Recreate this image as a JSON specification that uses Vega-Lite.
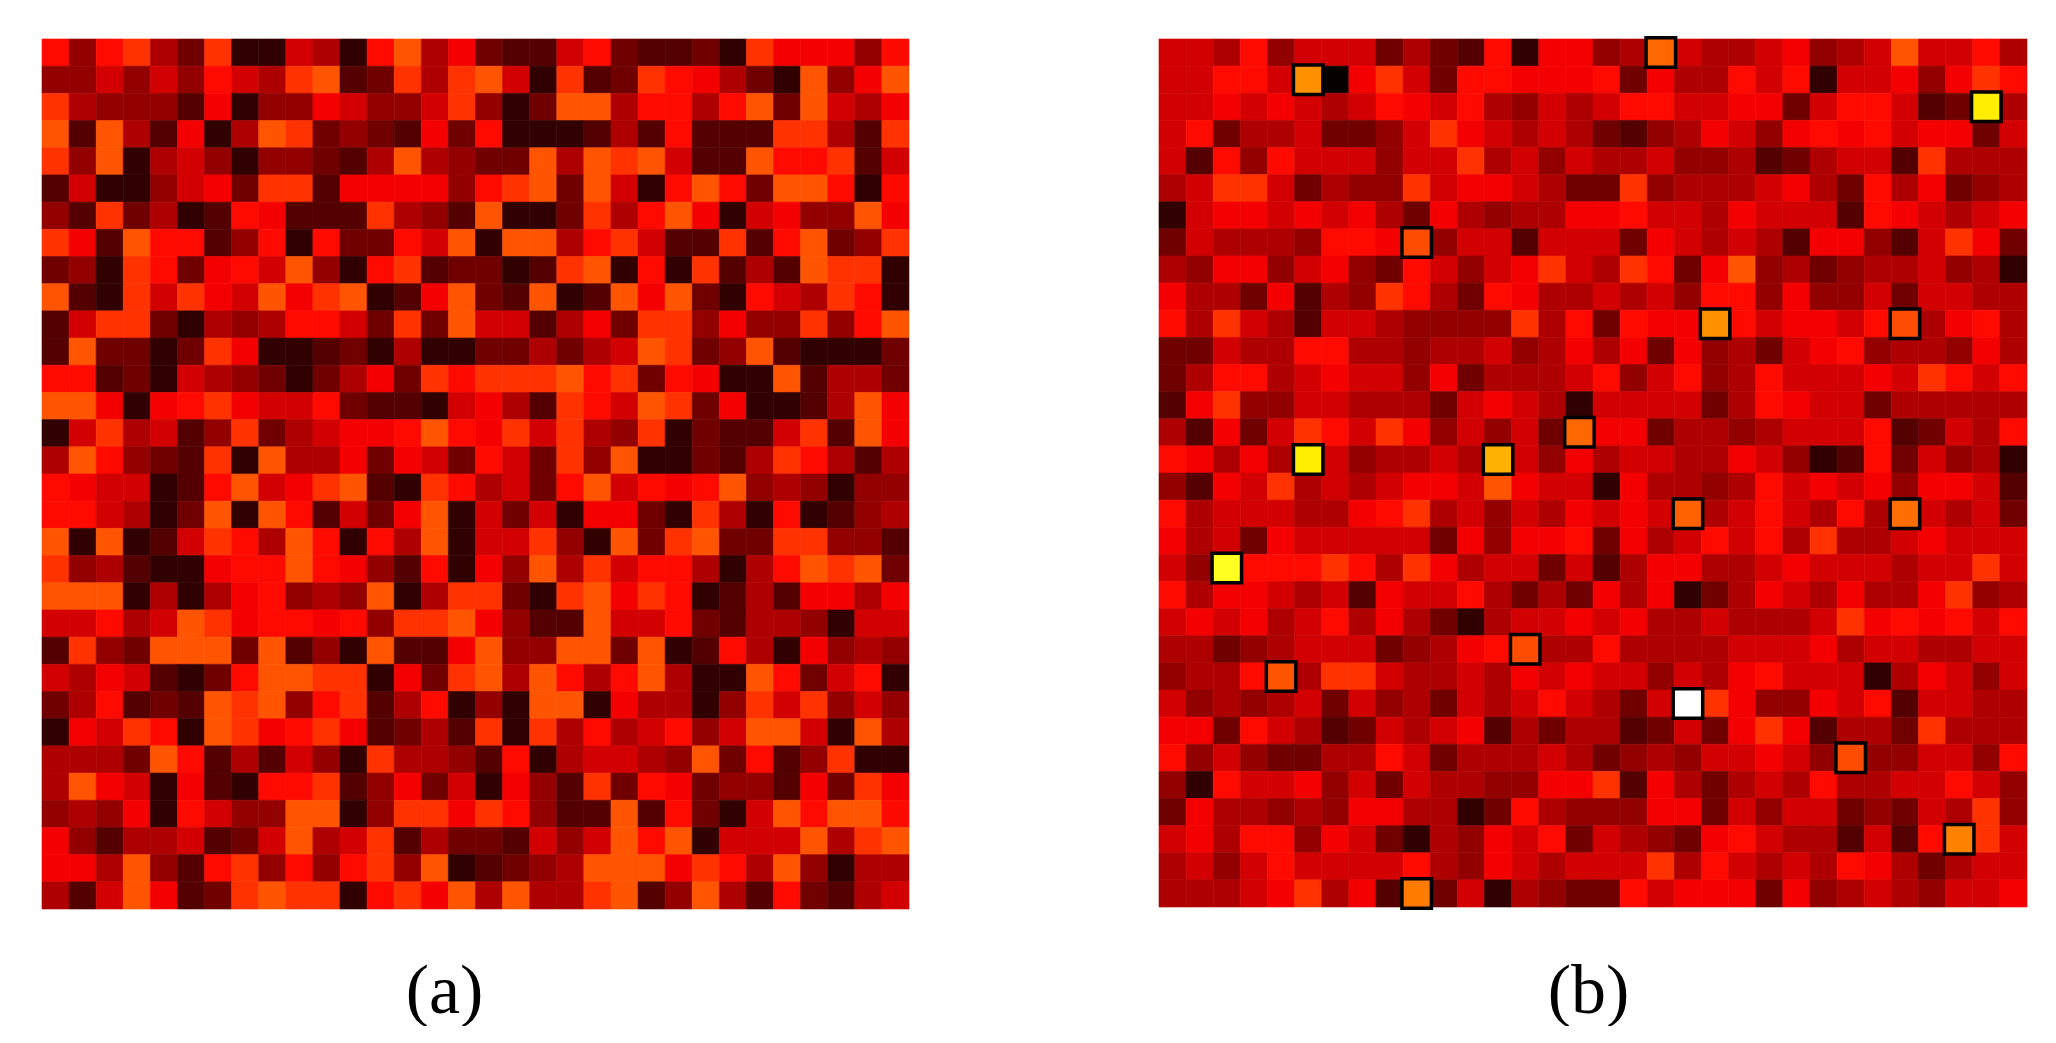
{"$schema":"https://vega.github.io/schema/vega-lite/v6.json","background":"white","padding":{"left":41,"top":30,"right":0,"bottom":0},"spacing":248,"config":{"view":{"stroke":null}},
"datasets":{"a":[
{"x":0,"y":0,"v":38},{"x":1,"y":0,"v":21},{"x":2,"y":0,"v":38},{"x":3,"y":0,"v":44},{"x":4,"y":0,"v":25},{"x":5,"y":0,"v":16},{"x":6,"y":0,"v":44},{"x":7,"y":0,"v":7},{"x":8,"y":0,"v":7},{"x":9,"y":0,"v":30},{"x":10,"y":0,"v":25},{"x":11,"y":0,"v":7},{"x":12,"y":0,"v":38},{"x":13,"y":0,"v":49},{"x":14,"y":0,"v":25},{"x":15,"y":0,"v":35},{"x":16,"y":0,"v":16},{"x":17,"y":0,"v":12},{"x":18,"y":0,"v":12},{"x":19,"y":0,"v":30},{"x":20,"y":0,"v":38},{"x":21,"y":0,"v":16},{"x":22,"y":0,"v":12},{"x":23,"y":0,"v":12},{"x":24,"y":0,"v":16},{"x":25,"y":0,"v":7},{"x":26,"y":0,"v":44},{"x":27,"y":0,"v":35},{"x":28,"y":0,"v":35},{"x":29,"y":0,"v":35},{"x":30,"y":0,"v":21},{"x":31,"y":0,"v":38},
{"x":0,"y":1,"v":21},{"x":1,"y":1,"v":21},{"x":2,"y":1,"v":30},{"x":3,"y":1,"v":21},{"x":4,"y":1,"v":30},{"x":5,"y":1,"v":21},{"x":6,"y":1,"v":38},{"x":7,"y":1,"v":30},{"x":8,"y":1,"v":25},{"x":9,"y":1,"v":44},{"x":10,"y":1,"v":49},{"x":11,"y":1,"v":12},{"x":12,"y":1,"v":16},{"x":13,"y":1,"v":44},{"x":14,"y":1,"v":25},{"x":15,"y":1,"v":44},{"x":16,"y":1,"v":49},{"x":17,"y":1,"v":30},{"x":18,"y":1,"v":7},{"x":19,"y":1,"v":44},{"x":20,"y":1,"v":12},{"x":21,"y":1,"v":16},{"x":22,"y":1,"v":44},{"x":23,"y":1,"v":38},{"x":24,"y":1,"v":35},{"x":25,"y":1,"v":25},{"x":26,"y":1,"v":16},{"x":27,"y":1,"v":7},{"x":28,"y":1,"v":49},{"x":29,"y":1,"v":21},{"x":30,"y":1,"v":35},{"x":31,"y":1,"v":49},
{"x":0,"y":2,"v":44},{"x":1,"y":2,"v":25},{"x":2,"y":2,"v":21},{"x":3,"y":2,"v":21},{"x":4,"y":2,"v":21},{"x":5,"y":2,"v":12},{"x":6,"y":2,"v":35},{"x":7,"y":2,"v":7},{"x":8,"y":2,"v":21},{"x":9,"y":2,"v":21},{"x":10,"y":2,"v":35},{"x":11,"y":2,"v":30},{"x":12,"y":2,"v":21},{"x":13,"y":2,"v":21},{"x":14,"y":2,"v":30},{"x":15,"y":2,"v":44},{"x":16,"y":2,"v":21},{"x":17,"y":2,"v":7},{"x":18,"y":2,"v":16},{"x":19,"y":2,"v":49},{"x":20,"y":2,"v":49},{"x":21,"y":2,"v":25},{"x":22,"y":2,"v":38},{"x":23,"y":2,"v":38},{"x":24,"y":2,"v":25},{"x":25,"y":2,"v":38},{"x":26,"y":2,"v":49},{"x":27,"y":2,"v":16},{"x":28,"y":2,"v":49},{"x":29,"y":2,"v":30},{"x":30,"y":2,"v":25},{"x":31,"y":2,"v":35},
{"x":0,"y":3,"v":49},{"x":1,"y":3,"v":12},{"x":2,"y":3,"v":49},{"x":3,"y":3,"v":25},{"x":4,"y":3,"v":12},{"x":5,"y":3,"v":35},{"x":6,"y":3,"v":7},{"x":7,"y":3,"v":25},{"x":8,"y":3,"v":49},{"x":9,"y":3,"v":44},{"x":10,"y":3,"v":16},{"x":11,"y":3,"v":21},{"x":12,"y":3,"v":16},{"x":13,"y":3,"v":12},{"x":14,"y":3,"v":35},{"x":15,"y":3,"v":16},{"x":16,"y":3,"v":38},{"x":17,"y":3,"v":7},{"x":18,"y":3,"v":7},{"x":19,"y":3,"v":7},{"x":20,"y":3,"v":12},{"x":21,"y":3,"v":25},{"x":22,"y":3,"v":12},{"x":23,"y":3,"v":38},{"x":24,"y":3,"v":12},{"x":25,"y":3,"v":12},{"x":26,"y":3,"v":12},{"x":27,"y":3,"v":44},{"x":28,"y":3,"v":44},{"x":29,"y":3,"v":25},{"x":30,"y":3,"v":12},{"x":31,"y":3,"v":44},
{"x":0,"y":4,"v":44},{"x":1,"y":4,"v":21},{"x":2,"y":4,"v":49},{"x":3,"y":4,"v":7},{"x":4,"y":4,"v":25},{"x":5,"y":4,"v":30},{"x":6,"y":4,"v":21},{"x":7,"y":4,"v":7},{"x":8,"y":4,"v":21},{"x":9,"y":4,"v":21},{"x":10,"y":4,"v":16},{"x":11,"y":4,"v":12},{"x":12,"y":4,"v":25},{"x":13,"y":4,"v":49},{"x":14,"y":4,"v":25},{"x":15,"y":4,"v":21},{"x":16,"y":4,"v":16},{"x":17,"y":4,"v":16},{"x":18,"y":4,"v":49},{"x":19,"y":4,"v":25},{"x":20,"y":4,"v":49},{"x":21,"y":4,"v":44},{"x":22,"y":4,"v":49},{"x":23,"y":4,"v":30},{"x":24,"y":4,"v":12},{"x":25,"y":4,"v":12},{"x":26,"y":4,"v":49},{"x":27,"y":4,"v":38},{"x":28,"y":4,"v":38},{"x":29,"y":4,"v":44},{"x":30,"y":4,"v":12},{"x":31,"y":4,"v":30},
{"x":0,"y":5,"v":12},{"x":1,"y":5,"v":30},{"x":2,"y":5,"v":7},{"x":3,"y":5,"v":7},{"x":4,"y":5,"v":21},{"x":5,"y":5,"v":30},{"x":6,"y":5,"v":35},{"x":7,"y":5,"v":16},{"x":8,"y":5,"v":44},{"x":9,"y":5,"v":44},{"x":10,"y":5,"v":12},{"x":11,"y":5,"v":35},{"x":12,"y":5,"v":35},{"x":13,"y":5,"v":35},{"x":14,"y":5,"v":35},{"x":15,"y":5,"v":21},{"x":16,"y":5,"v":38},{"x":17,"y":5,"v":44},{"x":18,"y":5,"v":49},{"x":19,"y":5,"v":16},{"x":20,"y":5,"v":49},{"x":21,"y":5,"v":30},{"x":22,"y":5,"v":7},{"x":23,"y":5,"v":38},{"x":24,"y":5,"v":49},{"x":25,"y":5,"v":38},{"x":26,"y":5,"v":16},{"x":27,"y":5,"v":49},{"x":28,"y":5,"v":49},{"x":29,"y":5,"v":38},{"x":30,"y":5,"v":7},{"x":31,"y":5,"v":38},
{"x":0,"y":6,"v":21},{"x":1,"y":6,"v":12},{"x":2,"y":6,"v":44},{"x":3,"y":6,"v":16},{"x":4,"y":6,"v":25},{"x":5,"y":6,"v":7},{"x":6,"y":6,"v":12},{"x":7,"y":6,"v":38},{"x":8,"y":6,"v":35},{"x":9,"y":6,"v":12},{"x":10,"y":6,"v":12},{"x":11,"y":6,"v":12},{"x":12,"y":6,"v":44},{"x":13,"y":6,"v":25},{"x":14,"y":6,"v":21},{"x":15,"y":6,"v":12},{"x":16,"y":6,"v":49},{"x":17,"y":6,"v":7},{"x":18,"y":6,"v":7},{"x":19,"y":6,"v":16},{"x":20,"y":6,"v":44},{"x":21,"y":6,"v":25},{"x":22,"y":6,"v":38},{"x":23,"y":6,"v":49},{"x":24,"y":6,"v":35},{"x":25,"y":6,"v":7},{"x":26,"y":6,"v":30},{"x":27,"y":6,"v":35},{"x":28,"y":6,"v":21},{"x":29,"y":6,"v":21},{"x":30,"y":6,"v":49},{"x":31,"y":6,"v":35},
{"x":0,"y":7,"v":44},{"x":1,"y":7,"v":35},{"x":2,"y":7,"v":12},{"x":3,"y":7,"v":49},{"x":4,"y":7,"v":38},{"x":5,"y":7,"v":38},{"x":6,"y":7,"v":12},{"x":7,"y":7,"v":21},{"x":8,"y":7,"v":38},{"x":9,"y":7,"v":7},{"x":10,"y":7,"v":38},{"x":11,"y":7,"v":16},{"x":12,"y":7,"v":16},{"x":13,"y":7,"v":38},{"x":14,"y":7,"v":30},{"x":15,"y":7,"v":49},{"x":16,"y":7,"v":7},{"x":17,"y":7,"v":49},{"x":18,"y":7,"v":49},{"x":19,"y":7,"v":25},{"x":20,"y":7,"v":38},{"x":21,"y":7,"v":44},{"x":22,"y":7,"v":30},{"x":23,"y":7,"v":12},{"x":24,"y":7,"v":12},{"x":25,"y":7,"v":44},{"x":26,"y":7,"v":12},{"x":27,"y":7,"v":38},{"x":28,"y":7,"v":49},{"x":29,"y":7,"v":16},{"x":30,"y":7,"v":21},{"x":31,"y":7,"v":44},
{"x":0,"y":8,"v":16},{"x":1,"y":8,"v":21},{"x":2,"y":8,"v":7},{"x":3,"y":8,"v":44},{"x":4,"y":8,"v":38},{"x":5,"y":8,"v":16},{"x":6,"y":8,"v":35},{"x":7,"y":8,"v":38},{"x":8,"y":8,"v":30},{"x":9,"y":8,"v":49},{"x":10,"y":8,"v":21},{"x":11,"y":8,"v":7},{"x":12,"y":8,"v":38},{"x":13,"y":8,"v":44},{"x":14,"y":8,"v":12},{"x":15,"y":8,"v":16},{"x":16,"y":8,"v":16},{"x":17,"y":8,"v":7},{"x":18,"y":8,"v":12},{"x":19,"y":8,"v":44},{"x":20,"y":8,"v":49},{"x":21,"y":8,"v":7},{"x":22,"y":8,"v":38},{"x":23,"y":8,"v":7},{"x":24,"y":8,"v":44},{"x":25,"y":8,"v":12},{"x":26,"y":8,"v":25},{"x":27,"y":8,"v":12},{"x":28,"y":8,"v":49},{"x":29,"y":8,"v":44},{"x":30,"y":8,"v":44},{"x":31,"y":8,"v":7},
{"x":0,"y":9,"v":49},{"x":1,"y":9,"v":12},{"x":2,"y":9,"v":7},{"x":3,"y":9,"v":44},{"x":4,"y":9,"v":30},{"x":5,"y":9,"v":44},{"x":6,"y":9,"v":35},{"x":7,"y":9,"v":30},{"x":8,"y":9,"v":49},{"x":9,"y":9,"v":35},{"x":10,"y":9,"v":44},{"x":11,"y":9,"v":49},{"x":12,"y":9,"v":7},{"x":13,"y":9,"v":12},{"x":14,"y":9,"v":35},{"x":15,"y":9,"v":49},{"x":16,"y":9,"v":16},{"x":17,"y":9,"v":12},{"x":18,"y":9,"v":49},{"x":19,"y":9,"v":7},{"x":20,"y":9,"v":12},{"x":21,"y":9,"v":49},{"x":22,"y":9,"v":35},{"x":23,"y":9,"v":49},{"x":24,"y":9,"v":16},{"x":25,"y":9,"v":7},{"x":26,"y":9,"v":38},{"x":27,"y":9,"v":30},{"x":28,"y":9,"v":25},{"x":29,"y":9,"v":44},{"x":30,"y":9,"v":38},{"x":31,"y":9,"v":7},
{"x":0,"y":10,"v":12},{"x":1,"y":10,"v":30},{"x":2,"y":10,"v":44},{"x":3,"y":10,"v":44},{"x":4,"y":10,"v":16},{"x":5,"y":10,"v":7},{"x":6,"y":10,"v":25},{"x":7,"y":10,"v":21},{"x":8,"y":10,"v":25},{"x":9,"y":10,"v":38},{"x":10,"y":10,"v":38},{"x":11,"y":10,"v":30},{"x":12,"y":10,"v":16},{"x":13,"y":10,"v":44},{"x":14,"y":10,"v":16},{"x":15,"y":10,"v":49},{"x":16,"y":10,"v":30},{"x":17,"y":10,"v":30},{"x":18,"y":10,"v":12},{"x":19,"y":10,"v":25},{"x":20,"y":10,"v":35},{"x":21,"y":10,"v":16},{"x":22,"y":10,"v":44},{"x":23,"y":10,"v":44},{"x":24,"y":10,"v":21},{"x":25,"y":10,"v":35},{"x":26,"y":10,"v":21},{"x":27,"y":10,"v":21},{"x":28,"y":10,"v":44},{"x":29,"y":10,"v":21},{"x":30,"y":10,"v":38},{"x":31,"y":10,"v":49},
{"x":0,"y":11,"v":12},{"x":1,"y":11,"v":49},{"x":2,"y":11,"v":16},{"x":3,"y":11,"v":16},{"x":4,"y":11,"v":7},{"x":5,"y":11,"v":16},{"x":6,"y":11,"v":44},{"x":7,"y":11,"v":35},{"x":8,"y":11,"v":7},{"x":9,"y":11,"v":7},{"x":10,"y":11,"v":12},{"x":11,"y":11,"v":16},{"x":12,"y":11,"v":7},{"x":13,"y":11,"v":25},{"x":14,"y":11,"v":7},{"x":15,"y":11,"v":7},{"x":16,"y":11,"v":16},{"x":17,"y":11,"v":16},{"x":18,"y":11,"v":25},{"x":19,"y":11,"v":16},{"x":20,"y":11,"v":25},{"x":21,"y":11,"v":30},{"x":22,"y":11,"v":49},{"x":23,"y":11,"v":44},{"x":24,"y":11,"v":16},{"x":25,"y":11,"v":21},{"x":26,"y":11,"v":49},{"x":27,"y":11,"v":12},{"x":28,"y":11,"v":7},{"x":29,"y":11,"v":7},{"x":30,"y":11,"v":7},{"x":31,"y":11,"v":16},
{"x":0,"y":12,"v":38},{"x":1,"y":12,"v":38},{"x":2,"y":12,"v":12},{"x":3,"y":12,"v":16},{"x":4,"y":12,"v":7},{"x":5,"y":12,"v":30},{"x":6,"y":12,"v":25},{"x":7,"y":12,"v":21},{"x":8,"y":12,"v":16},{"x":9,"y":12,"v":7},{"x":10,"y":12,"v":16},{"x":11,"y":12,"v":25},{"x":12,"y":12,"v":35},{"x":13,"y":12,"v":16},{"x":14,"y":12,"v":44},{"x":15,"y":12,"v":38},{"x":16,"y":12,"v":44},{"x":17,"y":12,"v":44},{"x":18,"y":12,"v":44},{"x":19,"y":12,"v":49},{"x":20,"y":12,"v":38},{"x":21,"y":12,"v":44},{"x":22,"y":12,"v":16},{"x":23,"y":12,"v":38},{"x":24,"y":12,"v":35},{"x":25,"y":12,"v":7},{"x":26,"y":12,"v":7},{"x":27,"y":12,"v":49},{"x":28,"y":12,"v":12},{"x":29,"y":12,"v":25},{"x":30,"y":12,"v":25},{"x":31,"y":12,"v":16},
{"x":0,"y":13,"v":49},{"x":1,"y":13,"v":49},{"x":2,"y":13,"v":35},{"x":3,"y":13,"v":7},{"x":4,"y":13,"v":35},{"x":5,"y":13,"v":38},{"x":6,"y":13,"v":44},{"x":7,"y":13,"v":35},{"x":8,"y":13,"v":30},{"x":9,"y":13,"v":30},{"x":10,"y":13,"v":38},{"x":11,"y":13,"v":16},{"x":12,"y":13,"v":12},{"x":13,"y":13,"v":12},{"x":14,"y":13,"v":7},{"x":15,"y":13,"v":30},{"x":16,"y":13,"v":35},{"x":17,"y":13,"v":25},{"x":18,"y":13,"v":12},{"x":19,"y":13,"v":44},{"x":20,"y":13,"v":38},{"x":21,"y":13,"v":30},{"x":22,"y":13,"v":49},{"x":23,"y":13,"v":44},{"x":24,"y":13,"v":16},{"x":25,"y":13,"v":35},{"x":26,"y":13,"v":7},{"x":27,"y":13,"v":7},{"x":28,"y":13,"v":12},{"x":29,"y":13,"v":25},{"x":30,"y":13,"v":49},{"x":31,"y":13,"v":35},
{"x":0,"y":14,"v":7},{"x":1,"y":14,"v":30},{"x":2,"y":14,"v":44},{"x":3,"y":14,"v":25},{"x":4,"y":14,"v":30},{"x":5,"y":14,"v":12},{"x":6,"y":14,"v":21},{"x":7,"y":14,"v":44},{"x":8,"y":14,"v":16},{"x":9,"y":14,"v":25},{"x":10,"y":14,"v":30},{"x":11,"y":14,"v":35},{"x":12,"y":14,"v":35},{"x":13,"y":14,"v":38},{"x":14,"y":14,"v":49},{"x":15,"y":14,"v":38},{"x":16,"y":14,"v":35},{"x":17,"y":14,"v":44},{"x":18,"y":14,"v":30},{"x":19,"y":14,"v":44},{"x":20,"y":14,"v":25},{"x":21,"y":14,"v":21},{"x":22,"y":14,"v":44},{"x":23,"y":14,"v":7},{"x":24,"y":14,"v":16},{"x":25,"y":14,"v":12},{"x":26,"y":14,"v":12},{"x":27,"y":14,"v":30},{"x":28,"y":14,"v":44},{"x":29,"y":14,"v":12},{"x":30,"y":14,"v":49},{"x":31,"y":14,"v":35},
{"x":0,"y":15,"v":25},{"x":1,"y":15,"v":49},{"x":2,"y":15,"v":38},{"x":3,"y":15,"v":21},{"x":4,"y":15,"v":16},{"x":5,"y":15,"v":12},{"x":6,"y":15,"v":44},{"x":7,"y":15,"v":7},{"x":8,"y":15,"v":49},{"x":9,"y":15,"v":25},{"x":10,"y":15,"v":25},{"x":11,"y":15,"v":35},{"x":12,"y":15,"v":16},{"x":13,"y":15,"v":35},{"x":14,"y":15,"v":30},{"x":15,"y":15,"v":16},{"x":16,"y":15,"v":38},{"x":17,"y":15,"v":30},{"x":18,"y":15,"v":16},{"x":19,"y":15,"v":44},{"x":20,"y":15,"v":21},{"x":21,"y":15,"v":49},{"x":22,"y":15,"v":7},{"x":23,"y":15,"v":7},{"x":24,"y":15,"v":16},{"x":25,"y":15,"v":12},{"x":26,"y":15,"v":25},{"x":27,"y":15,"v":44},{"x":28,"y":15,"v":38},{"x":29,"y":15,"v":25},{"x":30,"y":15,"v":12},{"x":31,"y":15,"v":25},
{"x":0,"y":16,"v":38},{"x":1,"y":16,"v":35},{"x":2,"y":16,"v":30},{"x":3,"y":16,"v":30},{"x":4,"y":16,"v":7},{"x":5,"y":16,"v":12},{"x":6,"y":16,"v":38},{"x":7,"y":16,"v":49},{"x":8,"y":16,"v":30},{"x":9,"y":16,"v":35},{"x":10,"y":16,"v":44},{"x":11,"y":16,"v":49},{"x":12,"y":16,"v":12},{"x":13,"y":16,"v":7},{"x":14,"y":16,"v":44},{"x":15,"y":16,"v":38},{"x":16,"y":16,"v":25},{"x":17,"y":16,"v":30},{"x":18,"y":16,"v":16},{"x":19,"y":16,"v":38},{"x":20,"y":16,"v":49},{"x":21,"y":16,"v":30},{"x":22,"y":16,"v":38},{"x":23,"y":16,"v":35},{"x":24,"y":16,"v":38},{"x":25,"y":16,"v":49},{"x":26,"y":16,"v":21},{"x":27,"y":16,"v":25},{"x":28,"y":16,"v":21},{"x":29,"y":16,"v":7},{"x":30,"y":16,"v":21},{"x":31,"y":16,"v":21},
{"x":0,"y":17,"v":38},{"x":1,"y":17,"v":38},{"x":2,"y":17,"v":30},{"x":3,"y":17,"v":25},{"x":4,"y":17,"v":7},{"x":5,"y":17,"v":16},{"x":6,"y":17,"v":49},{"x":7,"y":17,"v":7},{"x":8,"y":17,"v":49},{"x":9,"y":17,"v":38},{"x":10,"y":17,"v":12},{"x":11,"y":17,"v":30},{"x":12,"y":17,"v":16},{"x":13,"y":17,"v":35},{"x":14,"y":17,"v":49},{"x":15,"y":17,"v":7},{"x":16,"y":17,"v":30},{"x":17,"y":17,"v":16},{"x":18,"y":17,"v":30},{"x":19,"y":17,"v":7},{"x":20,"y":17,"v":35},{"x":21,"y":17,"v":35},{"x":22,"y":17,"v":16},{"x":23,"y":17,"v":7},{"x":24,"y":17,"v":44},{"x":25,"y":17,"v":25},{"x":26,"y":17,"v":7},{"x":27,"y":17,"v":38},{"x":28,"y":17,"v":7},{"x":29,"y":17,"v":12},{"x":30,"y":17,"v":21},{"x":31,"y":17,"v":25},
{"x":0,"y":18,"v":49},{"x":1,"y":18,"v":7},{"x":2,"y":18,"v":49},{"x":3,"y":18,"v":7},{"x":4,"y":18,"v":12},{"x":5,"y":18,"v":30},{"x":6,"y":18,"v":44},{"x":7,"y":18,"v":38},{"x":8,"y":18,"v":25},{"x":9,"y":18,"v":49},{"x":10,"y":18,"v":38},{"x":11,"y":18,"v":7},{"x":12,"y":18,"v":38},{"x":13,"y":18,"v":25},{"x":14,"y":18,"v":49},{"x":15,"y":18,"v":7},{"x":16,"y":18,"v":30},{"x":17,"y":18,"v":30},{"x":18,"y":18,"v":44},{"x":19,"y":18,"v":21},{"x":20,"y":18,"v":7},{"x":21,"y":18,"v":49},{"x":22,"y":18,"v":16},{"x":23,"y":18,"v":44},{"x":24,"y":18,"v":49},{"x":25,"y":18,"v":16},{"x":26,"y":18,"v":16},{"x":27,"y":18,"v":44},{"x":28,"y":18,"v":44},{"x":29,"y":18,"v":21},{"x":30,"y":18,"v":21},{"x":31,"y":18,"v":12},
{"x":0,"y":19,"v":44},{"x":1,"y":19,"v":21},{"x":2,"y":19,"v":25},{"x":3,"y":19,"v":12},{"x":4,"y":19,"v":7},{"x":5,"y":19,"v":7},{"x":6,"y":19,"v":35},{"x":7,"y":19,"v":38},{"x":8,"y":19,"v":38},{"x":9,"y":19,"v":49},{"x":10,"y":19,"v":38},{"x":11,"y":19,"v":35},{"x":12,"y":19,"v":21},{"x":13,"y":19,"v":12},{"x":14,"y":19,"v":38},{"x":15,"y":19,"v":7},{"x":16,"y":19,"v":35},{"x":17,"y":19,"v":21},{"x":18,"y":19,"v":49},{"x":19,"y":19,"v":25},{"x":20,"y":19,"v":44},{"x":21,"y":19,"v":30},{"x":22,"y":19,"v":38},{"x":23,"y":19,"v":38},{"x":24,"y":19,"v":25},{"x":25,"y":19,"v":7},{"x":26,"y":19,"v":25},{"x":27,"y":19,"v":38},{"x":28,"y":19,"v":49},{"x":29,"y":19,"v":44},{"x":30,"y":19,"v":49},{"x":31,"y":19,"v":16},
{"x":0,"y":20,"v":49},{"x":1,"y":20,"v":49},{"x":2,"y":20,"v":49},{"x":3,"y":20,"v":7},{"x":4,"y":20,"v":25},{"x":5,"y":20,"v":7},{"x":6,"y":20,"v":25},{"x":7,"y":20,"v":35},{"x":8,"y":20,"v":38},{"x":9,"y":20,"v":21},{"x":10,"y":20,"v":25},{"x":11,"y":20,"v":21},{"x":12,"y":20,"v":49},{"x":13,"y":20,"v":7},{"x":14,"y":20,"v":25},{"x":15,"y":20,"v":44},{"x":16,"y":20,"v":44},{"x":17,"y":20,"v":16},{"x":18,"y":20,"v":7},{"x":19,"y":20,"v":44},{"x":20,"y":20,"v":49},{"x":21,"y":20,"v":35},{"x":22,"y":20,"v":44},{"x":23,"y":20,"v":38},{"x":24,"y":20,"v":7},{"x":25,"y":20,"v":12},{"x":26,"y":20,"v":25},{"x":27,"y":20,"v":12},{"x":28,"y":20,"v":35},{"x":29,"y":20,"v":35},{"x":30,"y":20,"v":25},{"x":31,"y":20,"v":35},
{"x":0,"y":21,"v":30},{"x":1,"y":21,"v":30},{"x":2,"y":21,"v":38},{"x":3,"y":21,"v":25},{"x":4,"y":21,"v":30},{"x":5,"y":21,"v":49},{"x":6,"y":21,"v":44},{"x":7,"y":21,"v":35},{"x":8,"y":21,"v":38},{"x":9,"y":21,"v":38},{"x":10,"y":21,"v":35},{"x":11,"y":21,"v":38},{"x":12,"y":21,"v":21},{"x":13,"y":21,"v":44},{"x":14,"y":21,"v":44},{"x":15,"y":21,"v":49},{"x":16,"y":21,"v":35},{"x":17,"y":21,"v":21},{"x":18,"y":21,"v":12},{"x":19,"y":21,"v":12},{"x":20,"y":21,"v":49},{"x":21,"y":21,"v":30},{"x":22,"y":21,"v":30},{"x":23,"y":21,"v":38},{"x":24,"y":21,"v":16},{"x":25,"y":21,"v":12},{"x":26,"y":21,"v":25},{"x":27,"y":21,"v":25},{"x":28,"y":21,"v":21},{"x":29,"y":21,"v":7},{"x":30,"y":21,"v":30},{"x":31,"y":21,"v":30},
{"x":0,"y":22,"v":12},{"x":1,"y":22,"v":44},{"x":2,"y":22,"v":21},{"x":3,"y":22,"v":16},{"x":4,"y":22,"v":49},{"x":5,"y":22,"v":49},{"x":6,"y":22,"v":49},{"x":7,"y":22,"v":16},{"x":8,"y":22,"v":49},{"x":9,"y":22,"v":12},{"x":10,"y":22,"v":21},{"x":11,"y":22,"v":7},{"x":12,"y":22,"v":49},{"x":13,"y":22,"v":12},{"x":14,"y":22,"v":12},{"x":15,"y":22,"v":35},{"x":16,"y":22,"v":49},{"x":17,"y":22,"v":21},{"x":18,"y":22,"v":21},{"x":19,"y":22,"v":49},{"x":20,"y":22,"v":49},{"x":21,"y":22,"v":16},{"x":22,"y":22,"v":49},{"x":23,"y":22,"v":7},{"x":24,"y":22,"v":12},{"x":25,"y":22,"v":38},{"x":26,"y":22,"v":25},{"x":27,"y":22,"v":7},{"x":28,"y":22,"v":35},{"x":29,"y":22,"v":21},{"x":30,"y":22,"v":25},{"x":31,"y":22,"v":21},
{"x":0,"y":23,"v":30},{"x":1,"y":23,"v":25},{"x":2,"y":23,"v":35},{"x":3,"y":23,"v":30},{"x":4,"y":23,"v":12},{"x":5,"y":23,"v":7},{"x":6,"y":23,"v":16},{"x":7,"y":23,"v":38},{"x":8,"y":23,"v":49},{"x":9,"y":23,"v":49},{"x":10,"y":23,"v":44},{"x":11,"y":23,"v":44},{"x":12,"y":23,"v":7},{"x":13,"y":23,"v":35},{"x":14,"y":23,"v":16},{"x":15,"y":23,"v":44},{"x":16,"y":23,"v":49},{"x":17,"y":23,"v":25},{"x":18,"y":23,"v":49},{"x":19,"y":23,"v":38},{"x":20,"y":23,"v":25},{"x":21,"y":23,"v":38},{"x":22,"y":23,"v":49},{"x":23,"y":23,"v":25},{"x":24,"y":23,"v":7},{"x":25,"y":23,"v":7},{"x":26,"y":23,"v":49},{"x":27,"y":23,"v":38},{"x":28,"y":23,"v":16},{"x":29,"y":23,"v":30},{"x":30,"y":23,"v":38},{"x":31,"y":23,"v":7},
{"x":0,"y":24,"v":16},{"x":1,"y":24,"v":25},{"x":2,"y":24,"v":38},{"x":3,"y":24,"v":12},{"x":4,"y":24,"v":16},{"x":5,"y":24,"v":12},{"x":6,"y":24,"v":49},{"x":7,"y":24,"v":44},{"x":8,"y":24,"v":49},{"x":9,"y":24,"v":21},{"x":10,"y":24,"v":38},{"x":11,"y":24,"v":44},{"x":12,"y":24,"v":12},{"x":13,"y":24,"v":25},{"x":14,"y":24,"v":38},{"x":15,"y":24,"v":7},{"x":16,"y":24,"v":21},{"x":17,"y":24,"v":7},{"x":18,"y":24,"v":49},{"x":19,"y":24,"v":49},{"x":20,"y":24,"v":7},{"x":21,"y":24,"v":35},{"x":22,"y":24,"v":25},{"x":23,"y":24,"v":25},{"x":24,"y":24,"v":7},{"x":25,"y":24,"v":21},{"x":26,"y":24,"v":44},{"x":27,"y":24,"v":30},{"x":28,"y":24,"v":44},{"x":29,"y":24,"v":21},{"x":30,"y":24,"v":30},{"x":31,"y":24,"v":21},
{"x":0,"y":25,"v":7},{"x":1,"y":25,"v":35},{"x":2,"y":25,"v":30},{"x":3,"y":25,"v":44},{"x":4,"y":25,"v":38},{"x":5,"y":25,"v":7},{"x":6,"y":25,"v":49},{"x":7,"y":25,"v":44},{"x":8,"y":25,"v":35},{"x":9,"y":25,"v":38},{"x":10,"y":25,"v":44},{"x":11,"y":25,"v":35},{"x":12,"y":25,"v":12},{"x":13,"y":25,"v":16},{"x":14,"y":25,"v":25},{"x":15,"y":25,"v":12},{"x":16,"y":25,"v":44},{"x":17,"y":25,"v":7},{"x":18,"y":25,"v":44},{"x":19,"y":25,"v":25},{"x":20,"y":25,"v":38},{"x":21,"y":25,"v":25},{"x":22,"y":25,"v":30},{"x":23,"y":25,"v":38},{"x":24,"y":25,"v":21},{"x":25,"y":25,"v":30},{"x":26,"y":25,"v":49},{"x":27,"y":25,"v":49},{"x":28,"y":25,"v":30},{"x":29,"y":25,"v":7},{"x":30,"y":25,"v":49},{"x":31,"y":25,"v":25},
{"x":0,"y":26,"v":25},{"x":1,"y":26,"v":25},{"x":2,"y":26,"v":25},{"x":3,"y":26,"v":16},{"x":4,"y":26,"v":49},{"x":5,"y":26,"v":38},{"x":6,"y":26,"v":12},{"x":7,"y":26,"v":25},{"x":8,"y":26,"v":12},{"x":9,"y":26,"v":30},{"x":10,"y":26,"v":21},{"x":11,"y":26,"v":7},{"x":12,"y":26,"v":44},{"x":13,"y":26,"v":25},{"x":14,"y":26,"v":25},{"x":15,"y":26,"v":21},{"x":16,"y":26,"v":12},{"x":17,"y":26,"v":38},{"x":18,"y":26,"v":7},{"x":19,"y":26,"v":25},{"x":20,"y":26,"v":30},{"x":21,"y":26,"v":30},{"x":22,"y":26,"v":25},{"x":23,"y":26,"v":21},{"x":24,"y":26,"v":49},{"x":25,"y":26,"v":16},{"x":26,"y":26,"v":38},{"x":27,"y":26,"v":12},{"x":28,"y":26,"v":21},{"x":29,"y":26,"v":44},{"x":30,"y":26,"v":7},{"x":31,"y":26,"v":7},
{"x":0,"y":27,"v":25},{"x":1,"y":27,"v":49},{"x":2,"y":27,"v":35},{"x":3,"y":27,"v":30},{"x":4,"y":27,"v":7},{"x":5,"y":27,"v":35},{"x":6,"y":27,"v":12},{"x":7,"y":27,"v":7},{"x":8,"y":27,"v":38},{"x":9,"y":27,"v":38},{"x":10,"y":27,"v":44},{"x":11,"y":27,"v":12},{"x":12,"y":27,"v":21},{"x":13,"y":27,"v":35},{"x":14,"y":27,"v":16},{"x":15,"y":27,"v":30},{"x":16,"y":27,"v":7},{"x":17,"y":27,"v":35},{"x":18,"y":27,"v":21},{"x":19,"y":27,"v":12},{"x":20,"y":27,"v":44},{"x":21,"y":27,"v":16},{"x":22,"y":27,"v":38},{"x":23,"y":27,"v":35},{"x":24,"y":27,"v":16},{"x":25,"y":27,"v":21},{"x":26,"y":27,"v":21},{"x":27,"y":27,"v":12},{"x":28,"y":27,"v":35},{"x":29,"y":27,"v":16},{"x":30,"y":27,"v":44},{"x":31,"y":27,"v":35},
{"x":0,"y":28,"v":21},{"x":1,"y":28,"v":25},{"x":2,"y":28,"v":21},{"x":3,"y":28,"v":35},{"x":4,"y":28,"v":7},{"x":5,"y":28,"v":38},{"x":6,"y":28,"v":30},{"x":7,"y":28,"v":21},{"x":8,"y":28,"v":21},{"x":9,"y":28,"v":49},{"x":10,"y":28,"v":49},{"x":11,"y":28,"v":7},{"x":12,"y":28,"v":21},{"x":13,"y":28,"v":44},{"x":14,"y":28,"v":44},{"x":15,"y":28,"v":35},{"x":16,"y":28,"v":44},{"x":17,"y":28,"v":38},{"x":18,"y":28,"v":21},{"x":19,"y":28,"v":12},{"x":20,"y":28,"v":12},{"x":21,"y":28,"v":49},{"x":22,"y":28,"v":12},{"x":23,"y":28,"v":38},{"x":24,"y":28,"v":16},{"x":25,"y":28,"v":7},{"x":26,"y":28,"v":30},{"x":27,"y":28,"v":49},{"x":28,"y":28,"v":38},{"x":29,"y":28,"v":49},{"x":30,"y":28,"v":49},{"x":31,"y":28,"v":38},
{"x":0,"y":29,"v":35},{"x":1,"y":29,"v":21},{"x":2,"y":29,"v":12},{"x":3,"y":29,"v":25},{"x":4,"y":29,"v":25},{"x":5,"y":29,"v":30},{"x":6,"y":29,"v":12},{"x":7,"y":29,"v":16},{"x":8,"y":29,"v":30},{"x":9,"y":29,"v":49},{"x":10,"y":29,"v":25},{"x":11,"y":29,"v":30},{"x":12,"y":29,"v":44},{"x":13,"y":29,"v":12},{"x":14,"y":29,"v":25},{"x":15,"y":29,"v":16},{"x":16,"y":29,"v":16},{"x":17,"y":29,"v":12},{"x":18,"y":29,"v":30},{"x":19,"y":29,"v":21},{"x":20,"y":29,"v":30},{"x":21,"y":29,"v":49},{"x":22,"y":29,"v":38},{"x":23,"y":29,"v":49},{"x":24,"y":29,"v":7},{"x":25,"y":29,"v":30},{"x":26,"y":29,"v":30},{"x":27,"y":29,"v":30},{"x":28,"y":29,"v":49},{"x":29,"y":29,"v":25},{"x":30,"y":29,"v":44},{"x":31,"y":29,"v":49},
{"x":0,"y":30,"v":35},{"x":1,"y":30,"v":35},{"x":2,"y":30,"v":25},{"x":3,"y":30,"v":49},{"x":4,"y":30,"v":21},{"x":5,"y":30,"v":12},{"x":6,"y":30,"v":38},{"x":7,"y":30,"v":44},{"x":8,"y":30,"v":21},{"x":9,"y":30,"v":38},{"x":10,"y":30,"v":21},{"x":11,"y":30,"v":38},{"x":12,"y":30,"v":44},{"x":13,"y":30,"v":21},{"x":14,"y":30,"v":49},{"x":15,"y":30,"v":7},{"x":16,"y":30,"v":12},{"x":17,"y":30,"v":16},{"x":18,"y":30,"v":21},{"x":19,"y":30,"v":25},{"x":20,"y":30,"v":49},{"x":21,"y":30,"v":49},{"x":22,"y":30,"v":49},{"x":23,"y":30,"v":35},{"x":24,"y":30,"v":44},{"x":25,"y":30,"v":38},{"x":26,"y":30,"v":25},{"x":27,"y":30,"v":49},{"x":28,"y":30,"v":21},{"x":29,"y":30,"v":7},{"x":30,"y":30,"v":25},{"x":31,"y":30,"v":25},
{"x":0,"y":31,"v":25},{"x":1,"y":31,"v":12},{"x":2,"y":31,"v":30},{"x":3,"y":31,"v":49},{"x":4,"y":31,"v":35},{"x":5,"y":31,"v":12},{"x":6,"y":31,"v":16},{"x":7,"y":31,"v":44},{"x":8,"y":31,"v":49},{"x":9,"y":31,"v":44},{"x":10,"y":31,"v":44},{"x":11,"y":31,"v":7},{"x":12,"y":31,"v":38},{"x":13,"y":31,"v":44},{"x":14,"y":31,"v":35},{"x":15,"y":31,"v":49},{"x":16,"y":31,"v":25},{"x":17,"y":31,"v":49},{"x":18,"y":31,"v":25},{"x":19,"y":31,"v":25},{"x":20,"y":31,"v":44},{"x":21,"y":31,"v":49},{"x":22,"y":31,"v":12},{"x":23,"y":31,"v":21},{"x":24,"y":31,"v":49},{"x":25,"y":31,"v":25},{"x":26,"y":31,"v":12},{"x":27,"y":31,"v":38},{"x":28,"y":31,"v":16},{"x":29,"y":31,"v":12},{"x":30,"y":31,"v":25},{"x":31,"y":31,"v":30}
],"b":[
{"x":0,"y":0,"v":30},{"x":1,"y":0,"v":30},{"x":2,"y":0,"v":25},{"x":3,"y":0,"v":38},{"x":4,"y":0,"v":21},{"x":5,"y":0,"v":30},{"x":6,"y":0,"v":30},{"x":7,"y":0,"v":30},{"x":8,"y":0,"v":16},{"x":9,"y":0,"v":25},{"x":10,"y":0,"v":16},{"x":11,"y":0,"v":12},{"x":12,"y":0,"v":38},{"x":13,"y":0,"v":7},{"x":14,"y":0,"v":35},{"x":15,"y":0,"v":35},{"x":16,"y":0,"v":21},{"x":17,"y":0,"v":25},{"x":18,"y":0,"v":52},{"x":19,"y":0,"v":30},{"x":20,"y":0,"v":25},{"x":21,"y":0,"v":25},{"x":22,"y":0,"v":30},{"x":23,"y":0,"v":35},{"x":24,"y":0,"v":21},{"x":25,"y":0,"v":25},{"x":26,"y":0,"v":30},{"x":27,"y":0,"v":49},{"x":28,"y":0,"v":30},{"x":29,"y":0,"v":30},{"x":30,"y":0,"v":38},{"x":31,"y":0,"v":25},
{"x":0,"y":1,"v":30},{"x":1,"y":1,"v":30},{"x":2,"y":1,"v":38},{"x":3,"y":1,"v":38},{"x":4,"y":1,"v":30},{"x":5,"y":1,"v":58},{"x":6,"y":1,"v":1},{"x":7,"y":1,"v":35},{"x":8,"y":1,"v":44},{"x":9,"y":1,"v":30},{"x":10,"y":1,"v":16},{"x":11,"y":1,"v":38},{"x":12,"y":1,"v":38},{"x":13,"y":1,"v":35},{"x":14,"y":1,"v":35},{"x":15,"y":1,"v":35},{"x":16,"y":1,"v":38},{"x":17,"y":1,"v":16},{"x":18,"y":1,"v":35},{"x":19,"y":1,"v":25},{"x":20,"y":1,"v":25},{"x":21,"y":1,"v":38},{"x":22,"y":1,"v":30},{"x":23,"y":1,"v":38},{"x":24,"y":1,"v":7},{"x":25,"y":1,"v":30},{"x":26,"y":1,"v":30},{"x":27,"y":1,"v":35},{"x":28,"y":1,"v":21},{"x":29,"y":1,"v":35},{"x":30,"y":1,"v":44},{"x":31,"y":1,"v":38},
{"x":0,"y":2,"v":30},{"x":1,"y":2,"v":30},{"x":2,"y":2,"v":35},{"x":3,"y":2,"v":30},{"x":4,"y":2,"v":35},{"x":5,"y":2,"v":30},{"x":6,"y":2,"v":25},{"x":7,"y":2,"v":30},{"x":8,"y":2,"v":38},{"x":9,"y":2,"v":35},{"x":10,"y":2,"v":30},{"x":11,"y":2,"v":38},{"x":12,"y":2,"v":25},{"x":13,"y":2,"v":21},{"x":14,"y":2,"v":30},{"x":15,"y":2,"v":25},{"x":16,"y":2,"v":30},{"x":17,"y":2,"v":38},{"x":18,"y":2,"v":38},{"x":19,"y":2,"v":30},{"x":20,"y":2,"v":30},{"x":21,"y":2,"v":35},{"x":22,"y":2,"v":35},{"x":23,"y":2,"v":16},{"x":24,"y":2,"v":30},{"x":25,"y":2,"v":38},{"x":26,"y":2,"v":38},{"x":27,"y":2,"v":30},{"x":28,"y":2,"v":12},{"x":29,"y":2,"v":16},{"x":30,"y":2,"v":72},{"x":31,"y":2,"v":25},
{"x":0,"y":3,"v":30},{"x":1,"y":3,"v":38},{"x":2,"y":3,"v":16},{"x":3,"y":3,"v":25},{"x":4,"y":3,"v":25},{"x":5,"y":3,"v":30},{"x":6,"y":3,"v":16},{"x":7,"y":3,"v":16},{"x":8,"y":3,"v":21},{"x":9,"y":3,"v":30},{"x":10,"y":3,"v":44},{"x":11,"y":3,"v":35},{"x":12,"y":3,"v":30},{"x":13,"y":3,"v":25},{"x":14,"y":3,"v":30},{"x":15,"y":3,"v":25},{"x":16,"y":3,"v":16},{"x":17,"y":3,"v":12},{"x":18,"y":3,"v":21},{"x":19,"y":3,"v":25},{"x":20,"y":3,"v":35},{"x":21,"y":3,"v":30},{"x":22,"y":3,"v":21},{"x":23,"y":3,"v":35},{"x":24,"y":3,"v":38},{"x":25,"y":3,"v":35},{"x":26,"y":3,"v":38},{"x":27,"y":3,"v":30},{"x":28,"y":3,"v":35},{"x":29,"y":3,"v":35},{"x":30,"y":3,"v":16},{"x":31,"y":3,"v":30},
{"x":0,"y":4,"v":30},{"x":1,"y":4,"v":12},{"x":2,"y":4,"v":38},{"x":3,"y":4,"v":21},{"x":4,"y":4,"v":38},{"x":5,"y":4,"v":30},{"x":6,"y":4,"v":30},{"x":7,"y":4,"v":30},{"x":8,"y":4,"v":21},{"x":9,"y":4,"v":30},{"x":10,"y":4,"v":30},{"x":11,"y":4,"v":44},{"x":12,"y":4,"v":25},{"x":13,"y":4,"v":30},{"x":14,"y":4,"v":21},{"x":15,"y":4,"v":30},{"x":16,"y":4,"v":25},{"x":17,"y":4,"v":25},{"x":18,"y":4,"v":30},{"x":19,"y":4,"v":21},{"x":20,"y":4,"v":21},{"x":21,"y":4,"v":25},{"x":22,"y":4,"v":12},{"x":23,"y":4,"v":16},{"x":24,"y":4,"v":25},{"x":25,"y":4,"v":30},{"x":26,"y":4,"v":30},{"x":27,"y":4,"v":12},{"x":28,"y":4,"v":44},{"x":29,"y":4,"v":25},{"x":30,"y":4,"v":25},{"x":31,"y":4,"v":25},
{"x":0,"y":5,"v":25},{"x":1,"y":5,"v":30},{"x":2,"y":5,"v":44},{"x":3,"y":5,"v":44},{"x":4,"y":5,"v":30},{"x":5,"y":5,"v":16},{"x":6,"y":5,"v":25},{"x":7,"y":5,"v":21},{"x":8,"y":5,"v":21},{"x":9,"y":5,"v":44},{"x":10,"y":5,"v":30},{"x":11,"y":5,"v":35},{"x":12,"y":5,"v":35},{"x":13,"y":5,"v":30},{"x":14,"y":5,"v":25},{"x":15,"y":5,"v":16},{"x":16,"y":5,"v":16},{"x":17,"y":5,"v":44},{"x":18,"y":5,"v":21},{"x":19,"y":5,"v":25},{"x":20,"y":5,"v":25},{"x":21,"y":5,"v":25},{"x":22,"y":5,"v":30},{"x":23,"y":5,"v":35},{"x":24,"y":5,"v":25},{"x":25,"y":5,"v":16},{"x":26,"y":5,"v":38},{"x":27,"y":5,"v":25},{"x":28,"y":5,"v":35},{"x":29,"y":5,"v":16},{"x":30,"y":5,"v":21},{"x":31,"y":5,"v":25},
{"x":0,"y":6,"v":7},{"x":1,"y":6,"v":30},{"x":2,"y":6,"v":35},{"x":3,"y":6,"v":35},{"x":4,"y":6,"v":30},{"x":5,"y":6,"v":35},{"x":6,"y":6,"v":30},{"x":7,"y":6,"v":35},{"x":8,"y":6,"v":25},{"x":9,"y":6,"v":16},{"x":10,"y":6,"v":35},{"x":11,"y":6,"v":25},{"x":12,"y":6,"v":21},{"x":13,"y":6,"v":25},{"x":14,"y":6,"v":25},{"x":15,"y":6,"v":35},{"x":16,"y":6,"v":35},{"x":17,"y":6,"v":38},{"x":18,"y":6,"v":30},{"x":19,"y":6,"v":30},{"x":20,"y":6,"v":25},{"x":21,"y":6,"v":35},{"x":22,"y":6,"v":30},{"x":23,"y":6,"v":30},{"x":24,"y":6,"v":30},{"x":25,"y":6,"v":12},{"x":26,"y":6,"v":38},{"x":27,"y":6,"v":35},{"x":28,"y":6,"v":30},{"x":29,"y":6,"v":25},{"x":30,"y":6,"v":30},{"x":31,"y":6,"v":35},
{"x":0,"y":7,"v":16},{"x":1,"y":7,"v":30},{"x":2,"y":7,"v":25},{"x":3,"y":7,"v":25},{"x":4,"y":7,"v":25},{"x":5,"y":7,"v":21},{"x":6,"y":7,"v":38},{"x":7,"y":7,"v":38},{"x":8,"y":7,"v":35},{"x":9,"y":7,"v":48},{"x":10,"y":7,"v":21},{"x":11,"y":7,"v":30},{"x":12,"y":7,"v":30},{"x":13,"y":7,"v":12},{"x":14,"y":7,"v":30},{"x":15,"y":7,"v":30},{"x":16,"y":7,"v":30},{"x":17,"y":7,"v":16},{"x":18,"y":7,"v":35},{"x":19,"y":7,"v":30},{"x":20,"y":7,"v":25},{"x":21,"y":7,"v":30},{"x":22,"y":7,"v":25},{"x":23,"y":7,"v":12},{"x":24,"y":7,"v":35},{"x":25,"y":7,"v":35},{"x":26,"y":7,"v":21},{"x":27,"y":7,"v":12},{"x":28,"y":7,"v":30},{"x":29,"y":7,"v":44},{"x":30,"y":7,"v":35},{"x":31,"y":7,"v":16},
{"x":0,"y":8,"v":25},{"x":1,"y":8,"v":21},{"x":2,"y":8,"v":35},{"x":3,"y":8,"v":35},{"x":4,"y":8,"v":21},{"x":5,"y":8,"v":30},{"x":6,"y":8,"v":35},{"x":7,"y":8,"v":21},{"x":8,"y":8,"v":16},{"x":9,"y":8,"v":38},{"x":10,"y":8,"v":30},{"x":11,"y":8,"v":21},{"x":12,"y":8,"v":30},{"x":13,"y":8,"v":35},{"x":14,"y":8,"v":44},{"x":15,"y":8,"v":30},{"x":16,"y":8,"v":25},{"x":17,"y":8,"v":44},{"x":18,"y":8,"v":38},{"x":19,"y":8,"v":16},{"x":20,"y":8,"v":35},{"x":21,"y":8,"v":49},{"x":22,"y":8,"v":21},{"x":23,"y":8,"v":25},{"x":24,"y":8,"v":16},{"x":25,"y":8,"v":21},{"x":26,"y":8,"v":25},{"x":27,"y":8,"v":25},{"x":28,"y":8,"v":30},{"x":29,"y":8,"v":21},{"x":30,"y":8,"v":25},{"x":31,"y":8,"v":7},
{"x":0,"y":9,"v":35},{"x":1,"y":9,"v":25},{"x":2,"y":9,"v":25},{"x":3,"y":9,"v":16},{"x":4,"y":9,"v":35},{"x":5,"y":9,"v":12},{"x":6,"y":9,"v":25},{"x":7,"y":9,"v":21},{"x":8,"y":9,"v":44},{"x":9,"y":9,"v":38},{"x":10,"y":9,"v":25},{"x":11,"y":9,"v":16},{"x":12,"y":9,"v":38},{"x":13,"y":9,"v":35},{"x":14,"y":9,"v":25},{"x":15,"y":9,"v":25},{"x":16,"y":9,"v":30},{"x":17,"y":9,"v":25},{"x":18,"y":9,"v":30},{"x":19,"y":9,"v":21},{"x":20,"y":9,"v":38},{"x":21,"y":9,"v":38},{"x":22,"y":9,"v":21},{"x":23,"y":9,"v":35},{"x":24,"y":9,"v":21},{"x":25,"y":9,"v":21},{"x":26,"y":9,"v":30},{"x":27,"y":9,"v":16},{"x":28,"y":9,"v":30},{"x":29,"y":9,"v":30},{"x":30,"y":9,"v":25},{"x":31,"y":9,"v":25},
{"x":0,"y":10,"v":38},{"x":1,"y":10,"v":25},{"x":2,"y":10,"v":44},{"x":3,"y":10,"v":30},{"x":4,"y":10,"v":25},{"x":5,"y":10,"v":12},{"x":6,"y":10,"v":30},{"x":7,"y":10,"v":30},{"x":8,"y":10,"v":25},{"x":9,"y":10,"v":21},{"x":10,"y":10,"v":21},{"x":11,"y":10,"v":21},{"x":12,"y":10,"v":21},{"x":13,"y":10,"v":44},{"x":14,"y":10,"v":25},{"x":15,"y":10,"v":38},{"x":16,"y":10,"v":16},{"x":17,"y":10,"v":38},{"x":18,"y":10,"v":35},{"x":19,"y":10,"v":35},{"x":20,"y":10,"v":58},{"x":21,"y":10,"v":38},{"x":22,"y":10,"v":30},{"x":23,"y":10,"v":35},{"x":24,"y":10,"v":35},{"x":25,"y":10,"v":30},{"x":26,"y":10,"v":38},{"x":27,"y":10,"v":48},{"x":28,"y":10,"v":25},{"x":29,"y":10,"v":35},{"x":30,"y":10,"v":38},{"x":31,"y":10,"v":25},
{"x":0,"y":11,"v":16},{"x":1,"y":11,"v":16},{"x":2,"y":11,"v":30},{"x":3,"y":11,"v":25},{"x":4,"y":11,"v":25},{"x":5,"y":11,"v":38},{"x":6,"y":11,"v":38},{"x":7,"y":11,"v":25},{"x":8,"y":11,"v":25},{"x":9,"y":11,"v":21},{"x":10,"y":11,"v":25},{"x":11,"y":11,"v":25},{"x":12,"y":11,"v":30},{"x":13,"y":11,"v":21},{"x":14,"y":11,"v":25},{"x":15,"y":11,"v":35},{"x":16,"y":11,"v":25},{"x":17,"y":11,"v":35},{"x":18,"y":11,"v":16},{"x":19,"y":11,"v":35},{"x":20,"y":11,"v":21},{"x":21,"y":11,"v":25},{"x":22,"y":11,"v":16},{"x":23,"y":11,"v":30},{"x":24,"y":11,"v":35},{"x":25,"y":11,"v":38},{"x":26,"y":11,"v":21},{"x":27,"y":11,"v":25},{"x":28,"y":11,"v":25},{"x":29,"y":11,"v":21},{"x":30,"y":11,"v":35},{"x":31,"y":11,"v":25},
{"x":0,"y":12,"v":16},{"x":1,"y":12,"v":25},{"x":2,"y":12,"v":38},{"x":3,"y":12,"v":38},{"x":4,"y":12,"v":25},{"x":5,"y":12,"v":30},{"x":6,"y":12,"v":35},{"x":7,"y":12,"v":30},{"x":8,"y":12,"v":30},{"x":9,"y":12,"v":21},{"x":10,"y":12,"v":35},{"x":11,"y":12,"v":16},{"x":12,"y":12,"v":25},{"x":13,"y":12,"v":25},{"x":14,"y":12,"v":25},{"x":15,"y":12,"v":30},{"x":16,"y":12,"v":38},{"x":17,"y":12,"v":21},{"x":18,"y":12,"v":30},{"x":19,"y":12,"v":38},{"x":20,"y":12,"v":21},{"x":21,"y":12,"v":25},{"x":22,"y":12,"v":38},{"x":23,"y":12,"v":30},{"x":24,"y":12,"v":30},{"x":25,"y":12,"v":30},{"x":26,"y":12,"v":35},{"x":27,"y":12,"v":30},{"x":28,"y":12,"v":44},{"x":29,"y":12,"v":38},{"x":30,"y":12,"v":30},{"x":31,"y":12,"v":38},
{"x":0,"y":13,"v":12},{"x":1,"y":13,"v":35},{"x":2,"y":13,"v":44},{"x":3,"y":13,"v":21},{"x":4,"y":13,"v":21},{"x":5,"y":13,"v":30},{"x":6,"y":13,"v":30},{"x":7,"y":13,"v":25},{"x":8,"y":13,"v":25},{"x":9,"y":13,"v":25},{"x":10,"y":13,"v":16},{"x":11,"y":13,"v":30},{"x":12,"y":13,"v":35},{"x":13,"y":13,"v":30},{"x":14,"y":13,"v":25},{"x":15,"y":13,"v":7},{"x":16,"y":13,"v":30},{"x":17,"y":13,"v":30},{"x":18,"y":13,"v":30},{"x":19,"y":13,"v":30},{"x":20,"y":13,"v":16},{"x":21,"y":13,"v":25},{"x":22,"y":13,"v":38},{"x":23,"y":13,"v":35},{"x":24,"y":13,"v":30},{"x":25,"y":13,"v":30},{"x":26,"y":13,"v":16},{"x":27,"y":13,"v":25},{"x":28,"y":13,"v":25},{"x":29,"y":13,"v":25},{"x":30,"y":13,"v":25},{"x":31,"y":13,"v":25},
{"x":0,"y":14,"v":25},{"x":1,"y":14,"v":12},{"x":2,"y":14,"v":35},{"x":3,"y":14,"v":16},{"x":4,"y":14,"v":30},{"x":5,"y":14,"v":44},{"x":6,"y":14,"v":38},{"x":7,"y":14,"v":30},{"x":8,"y":14,"v":44},{"x":9,"y":14,"v":35},{"x":10,"y":14,"v":21},{"x":11,"y":14,"v":30},{"x":12,"y":14,"v":21},{"x":13,"y":14,"v":30},{"x":14,"y":14,"v":16},{"x":15,"y":14,"v":52},{"x":16,"y":14,"v":35},{"x":17,"y":14,"v":35},{"x":18,"y":14,"v":16},{"x":19,"y":14,"v":25},{"x":20,"y":14,"v":25},{"x":21,"y":14,"v":21},{"x":22,"y":14,"v":25},{"x":23,"y":14,"v":30},{"x":24,"y":14,"v":30},{"x":25,"y":14,"v":30},{"x":26,"y":14,"v":38},{"x":27,"y":14,"v":12},{"x":28,"y":14,"v":16},{"x":29,"y":14,"v":30},{"x":30,"y":14,"v":25},{"x":31,"y":14,"v":38},
{"x":0,"y":15,"v":38},{"x":1,"y":15,"v":35},{"x":2,"y":15,"v":25},{"x":3,"y":15,"v":35},{"x":4,"y":15,"v":25},{"x":5,"y":15,"v":72},{"x":6,"y":15,"v":30},{"x":7,"y":15,"v":21},{"x":8,"y":15,"v":25},{"x":9,"y":15,"v":25},{"x":10,"y":15,"v":30},{"x":11,"y":15,"v":25},{"x":12,"y":15,"v":63},{"x":13,"y":15,"v":30},{"x":14,"y":15,"v":21},{"x":15,"y":15,"v":35},{"x":16,"y":15,"v":25},{"x":17,"y":15,"v":30},{"x":18,"y":15,"v":30},{"x":19,"y":15,"v":25},{"x":20,"y":15,"v":25},{"x":21,"y":15,"v":35},{"x":22,"y":15,"v":30},{"x":23,"y":15,"v":21},{"x":24,"y":15,"v":7},{"x":25,"y":15,"v":12},{"x":26,"y":15,"v":38},{"x":27,"y":15,"v":16},{"x":28,"y":15,"v":30},{"x":29,"y":15,"v":21},{"x":30,"y":15,"v":25},{"x":31,"y":15,"v":7},
{"x":0,"y":16,"v":21},{"x":1,"y":16,"v":12},{"x":2,"y":16,"v":35},{"x":3,"y":16,"v":30},{"x":4,"y":16,"v":44},{"x":5,"y":16,"v":25},{"x":6,"y":16,"v":30},{"x":7,"y":16,"v":25},{"x":8,"y":16,"v":30},{"x":9,"y":16,"v":35},{"x":10,"y":16,"v":35},{"x":11,"y":16,"v":30},{"x":12,"y":16,"v":49},{"x":13,"y":16,"v":35},{"x":14,"y":16,"v":30},{"x":15,"y":16,"v":30},{"x":16,"y":16,"v":7},{"x":17,"y":16,"v":35},{"x":18,"y":16,"v":25},{"x":19,"y":16,"v":25},{"x":20,"y":16,"v":21},{"x":21,"y":16,"v":25},{"x":22,"y":16,"v":38},{"x":23,"y":16,"v":30},{"x":24,"y":16,"v":35},{"x":25,"y":16,"v":30},{"x":26,"y":16,"v":35},{"x":27,"y":16,"v":21},{"x":28,"y":16,"v":35},{"x":29,"y":16,"v":35},{"x":30,"y":16,"v":30},{"x":31,"y":16,"v":12},
{"x":0,"y":17,"v":38},{"x":1,"y":17,"v":25},{"x":2,"y":17,"v":30},{"x":3,"y":17,"v":30},{"x":4,"y":17,"v":30},{"x":5,"y":17,"v":25},{"x":6,"y":17,"v":25},{"x":7,"y":17,"v":35},{"x":8,"y":17,"v":38},{"x":9,"y":17,"v":44},{"x":10,"y":17,"v":25},{"x":11,"y":17,"v":30},{"x":12,"y":17,"v":21},{"x":13,"y":17,"v":30},{"x":14,"y":17,"v":25},{"x":15,"y":17,"v":35},{"x":16,"y":17,"v":30},{"x":17,"y":17,"v":35},{"x":18,"y":17,"v":30},{"x":19,"y":17,"v":51},{"x":20,"y":17,"v":25},{"x":21,"y":17,"v":30},{"x":22,"y":17,"v":38},{"x":23,"y":17,"v":30},{"x":24,"y":17,"v":25},{"x":25,"y":17,"v":38},{"x":26,"y":17,"v":25},{"x":27,"y":17,"v":53},{"x":28,"y":17,"v":30},{"x":29,"y":17,"v":25},{"x":30,"y":17,"v":30},{"x":31,"y":17,"v":16},
{"x":0,"y":18,"v":35},{"x":1,"y":18,"v":25},{"x":2,"y":18,"v":30},{"x":3,"y":18,"v":16},{"x":4,"y":18,"v":35},{"x":5,"y":18,"v":30},{"x":6,"y":18,"v":30},{"x":7,"y":18,"v":30},{"x":8,"y":18,"v":30},{"x":9,"y":18,"v":30},{"x":10,"y":18,"v":16},{"x":11,"y":18,"v":35},{"x":12,"y":18,"v":21},{"x":13,"y":18,"v":35},{"x":14,"y":18,"v":35},{"x":15,"y":18,"v":38},{"x":16,"y":18,"v":16},{"x":17,"y":18,"v":35},{"x":18,"y":18,"v":25},{"x":19,"y":18,"v":30},{"x":20,"y":18,"v":38},{"x":21,"y":18,"v":30},{"x":22,"y":18,"v":38},{"x":23,"y":18,"v":25},{"x":24,"y":18,"v":44},{"x":25,"y":18,"v":25},{"x":26,"y":18,"v":25},{"x":27,"y":18,"v":30},{"x":28,"y":18,"v":35},{"x":29,"y":18,"v":30},{"x":30,"y":18,"v":30},{"x":31,"y":18,"v":30},
{"x":0,"y":19,"v":30},{"x":1,"y":19,"v":21},{"x":2,"y":19,"v":78},{"x":3,"y":19,"v":38},{"x":4,"y":19,"v":38},{"x":5,"y":19,"v":38},{"x":6,"y":19,"v":44},{"x":7,"y":19,"v":38},{"x":8,"y":19,"v":25},{"x":9,"y":19,"v":44},{"x":10,"y":19,"v":35},{"x":11,"y":19,"v":25},{"x":12,"y":19,"v":30},{"x":13,"y":19,"v":30},{"x":14,"y":19,"v":16},{"x":15,"y":19,"v":30},{"x":16,"y":19,"v":12},{"x":17,"y":19,"v":25},{"x":18,"y":19,"v":35},{"x":19,"y":19,"v":35},{"x":20,"y":19,"v":25},{"x":21,"y":19,"v":25},{"x":22,"y":19,"v":30},{"x":23,"y":19,"v":35},{"x":24,"y":19,"v":30},{"x":25,"y":19,"v":30},{"x":26,"y":19,"v":30},{"x":27,"y":19,"v":25},{"x":28,"y":19,"v":30},{"x":29,"y":19,"v":30},{"x":30,"y":19,"v":44},{"x":31,"y":19,"v":30},
{"x":0,"y":20,"v":38},{"x":1,"y":20,"v":25},{"x":2,"y":20,"v":35},{"x":3,"y":20,"v":35},{"x":4,"y":20,"v":30},{"x":5,"y":20,"v":25},{"x":6,"y":20,"v":30},{"x":7,"y":20,"v":12},{"x":8,"y":20,"v":35},{"x":9,"y":20,"v":30},{"x":10,"y":20,"v":30},{"x":11,"y":20,"v":38},{"x":12,"y":20,"v":25},{"x":13,"y":20,"v":16},{"x":14,"y":20,"v":25},{"x":15,"y":20,"v":16},{"x":16,"y":20,"v":35},{"x":17,"y":20,"v":25},{"x":18,"y":20,"v":35},{"x":19,"y":20,"v":7},{"x":20,"y":20,"v":16},{"x":21,"y":20,"v":25},{"x":22,"y":20,"v":35},{"x":23,"y":20,"v":30},{"x":24,"y":20,"v":25},{"x":25,"y":20,"v":35},{"x":26,"y":20,"v":25},{"x":27,"y":20,"v":25},{"x":28,"y":20,"v":35},{"x":29,"y":20,"v":44},{"x":30,"y":20,"v":21},{"x":31,"y":20,"v":25},
{"x":0,"y":21,"v":30},{"x":1,"y":21,"v":35},{"x":2,"y":21,"v":30},{"x":3,"y":21,"v":35},{"x":4,"y":21,"v":25},{"x":5,"y":21,"v":30},{"x":6,"y":21,"v":38},{"x":7,"y":21,"v":25},{"x":8,"y":21,"v":35},{"x":9,"y":21,"v":25},{"x":10,"y":21,"v":16},{"x":11,"y":21,"v":7},{"x":12,"y":21,"v":25},{"x":13,"y":21,"v":30},{"x":14,"y":21,"v":30},{"x":15,"y":21,"v":35},{"x":16,"y":21,"v":30},{"x":17,"y":21,"v":35},{"x":18,"y":21,"v":25},{"x":19,"y":21,"v":25},{"x":20,"y":21,"v":30},{"x":21,"y":21,"v":25},{"x":22,"y":21,"v":25},{"x":23,"y":21,"v":25},{"x":24,"y":21,"v":30},{"x":25,"y":21,"v":44},{"x":26,"y":21,"v":35},{"x":27,"y":21,"v":38},{"x":28,"y":21,"v":35},{"x":29,"y":21,"v":38},{"x":30,"y":21,"v":30},{"x":31,"y":21,"v":38},
{"x":0,"y":22,"v":25},{"x":1,"y":22,"v":25},{"x":2,"y":22,"v":16},{"x":3,"y":22,"v":21},{"x":4,"y":22,"v":25},{"x":5,"y":22,"v":30},{"x":6,"y":22,"v":30},{"x":7,"y":22,"v":30},{"x":8,"y":22,"v":16},{"x":9,"y":22,"v":21},{"x":10,"y":22,"v":25},{"x":11,"y":22,"v":35},{"x":12,"y":22,"v":38},{"x":13,"y":22,"v":48},{"x":14,"y":22,"v":25},{"x":15,"y":22,"v":25},{"x":16,"y":22,"v":38},{"x":17,"y":22,"v":25},{"x":18,"y":22,"v":25},{"x":19,"y":22,"v":25},{"x":20,"y":22,"v":25},{"x":21,"y":22,"v":30},{"x":22,"y":22,"v":30},{"x":23,"y":22,"v":30},{"x":24,"y":22,"v":35},{"x":25,"y":22,"v":25},{"x":26,"y":22,"v":30},{"x":27,"y":22,"v":30},{"x":28,"y":22,"v":25},{"x":29,"y":22,"v":25},{"x":30,"y":22,"v":30},{"x":31,"y":22,"v":30},
{"x":0,"y":23,"v":21},{"x":1,"y":23,"v":25},{"x":2,"y":23,"v":25},{"x":3,"y":23,"v":38},{"x":4,"y":23,"v":49},{"x":5,"y":23,"v":25},{"x":6,"y":23,"v":44},{"x":7,"y":23,"v":44},{"x":8,"y":23,"v":30},{"x":9,"y":23,"v":25},{"x":10,"y":23,"v":25},{"x":11,"y":23,"v":30},{"x":12,"y":23,"v":25},{"x":13,"y":23,"v":35},{"x":14,"y":23,"v":30},{"x":15,"y":23,"v":35},{"x":16,"y":23,"v":30},{"x":17,"y":23,"v":30},{"x":18,"y":23,"v":21},{"x":19,"y":23,"v":30},{"x":20,"y":23,"v":25},{"x":21,"y":23,"v":35},{"x":22,"y":23,"v":38},{"x":23,"y":23,"v":30},{"x":24,"y":23,"v":30},{"x":25,"y":23,"v":30},{"x":26,"y":23,"v":7},{"x":27,"y":23,"v":25},{"x":28,"y":23,"v":35},{"x":29,"y":23,"v":30},{"x":30,"y":23,"v":21},{"x":31,"y":23,"v":30},
{"x":0,"y":24,"v":30},{"x":1,"y":24,"v":21},{"x":2,"y":24,"v":25},{"x":3,"y":24,"v":21},{"x":4,"y":24,"v":25},{"x":5,"y":24,"v":30},{"x":6,"y":24,"v":16},{"x":7,"y":24,"v":30},{"x":8,"y":24,"v":21},{"x":9,"y":24,"v":25},{"x":10,"y":24,"v":16},{"x":11,"y":24,"v":30},{"x":12,"y":24,"v":25},{"x":13,"y":24,"v":30},{"x":14,"y":24,"v":38},{"x":15,"y":24,"v":30},{"x":16,"y":24,"v":25},{"x":17,"y":24,"v":16},{"x":18,"y":24,"v":30},{"x":19,"y":24,"v":100},{"x":20,"y":24,"v":44},{"x":21,"y":24,"v":35},{"x":22,"y":24,"v":21},{"x":23,"y":24,"v":21},{"x":24,"y":24,"v":35},{"x":25,"y":24,"v":30},{"x":26,"y":24,"v":38},{"x":27,"y":24,"v":12},{"x":28,"y":24,"v":30},{"x":29,"y":24,"v":30},{"x":30,"y":24,"v":25},{"x":31,"y":24,"v":25},
{"x":0,"y":25,"v":35},{"x":1,"y":25,"v":35},{"x":2,"y":25,"v":16},{"x":3,"y":25,"v":38},{"x":4,"y":25,"v":30},{"x":5,"y":25,"v":25},{"x":6,"y":25,"v":12},{"x":7,"y":25,"v":16},{"x":8,"y":25,"v":30},{"x":9,"y":25,"v":25},{"x":10,"y":25,"v":30},{"x":11,"y":25,"v":35},{"x":12,"y":25,"v":12},{"x":13,"y":25,"v":25},{"x":14,"y":25,"v":16},{"x":15,"y":25,"v":25},{"x":16,"y":25,"v":25},{"x":17,"y":25,"v":12},{"x":18,"y":25,"v":16},{"x":19,"y":25,"v":30},{"x":20,"y":25,"v":16},{"x":21,"y":25,"v":35},{"x":22,"y":25,"v":44},{"x":23,"y":25,"v":35},{"x":24,"y":25,"v":12},{"x":25,"y":25,"v":25},{"x":26,"y":25,"v":25},{"x":27,"y":25,"v":16},{"x":28,"y":25,"v":44},{"x":29,"y":25,"v":25},{"x":30,"y":25,"v":25},{"x":31,"y":25,"v":25},
{"x":0,"y":26,"v":38},{"x":1,"y":26,"v":21},{"x":2,"y":26,"v":30},{"x":3,"y":26,"v":21},{"x":4,"y":26,"v":16},{"x":5,"y":26,"v":16},{"x":6,"y":26,"v":25},{"x":7,"y":26,"v":25},{"x":8,"y":26,"v":38},{"x":9,"y":26,"v":30},{"x":10,"y":26,"v":16},{"x":11,"y":26,"v":25},{"x":12,"y":26,"v":25},{"x":13,"y":26,"v":25},{"x":14,"y":26,"v":30},{"x":15,"y":26,"v":25},{"x":16,"y":26,"v":16},{"x":17,"y":26,"v":21},{"x":18,"y":26,"v":25},{"x":19,"y":26,"v":21},{"x":20,"y":26,"v":30},{"x":21,"y":26,"v":30},{"x":22,"y":26,"v":35},{"x":23,"y":26,"v":30},{"x":24,"y":26,"v":21},{"x":25,"y":26,"v":48},{"x":26,"y":26,"v":21},{"x":27,"y":26,"v":21},{"x":28,"y":26,"v":30},{"x":29,"y":26,"v":30},{"x":30,"y":26,"v":21},{"x":31,"y":26,"v":38},
{"x":0,"y":27,"v":21},{"x":1,"y":27,"v":7},{"x":2,"y":27,"v":38},{"x":3,"y":27,"v":30},{"x":4,"y":27,"v":30},{"x":5,"y":27,"v":35},{"x":6,"y":27,"v":21},{"x":7,"y":27,"v":30},{"x":8,"y":27,"v":16},{"x":9,"y":27,"v":30},{"x":10,"y":27,"v":25},{"x":11,"y":27,"v":25},{"x":12,"y":27,"v":21},{"x":13,"y":27,"v":21},{"x":14,"y":27,"v":35},{"x":15,"y":27,"v":35},{"x":16,"y":27,"v":44},{"x":17,"y":27,"v":12},{"x":18,"y":27,"v":35},{"x":19,"y":27,"v":25},{"x":20,"y":27,"v":16},{"x":21,"y":27,"v":25},{"x":22,"y":27,"v":30},{"x":23,"y":27,"v":25},{"x":24,"y":27,"v":38},{"x":25,"y":27,"v":25},{"x":26,"y":27,"v":25},{"x":27,"y":27,"v":30},{"x":28,"y":27,"v":30},{"x":29,"y":27,"v":38},{"x":30,"y":27,"v":30},{"x":31,"y":27,"v":21},
{"x":0,"y":28,"v":16},{"x":1,"y":28,"v":35},{"x":2,"y":28,"v":25},{"x":3,"y":28,"v":25},{"x":4,"y":28,"v":21},{"x":5,"y":28,"v":25},{"x":6,"y":28,"v":21},{"x":7,"y":28,"v":35},{"x":8,"y":28,"v":35},{"x":9,"y":28,"v":25},{"x":10,"y":28,"v":25},{"x":11,"y":28,"v":7},{"x":12,"y":28,"v":16},{"x":13,"y":28,"v":38},{"x":14,"y":28,"v":25},{"x":15,"y":28,"v":21},{"x":16,"y":28,"v":21},{"x":17,"y":28,"v":21},{"x":18,"y":28,"v":35},{"x":19,"y":28,"v":35},{"x":20,"y":28,"v":16},{"x":21,"y":28,"v":30},{"x":22,"y":28,"v":21},{"x":23,"y":28,"v":30},{"x":24,"y":28,"v":30},{"x":25,"y":28,"v":16},{"x":26,"y":28,"v":21},{"x":27,"y":28,"v":16},{"x":28,"y":28,"v":30},{"x":29,"y":28,"v":25},{"x":30,"y":28,"v":44},{"x":31,"y":28,"v":21},
{"x":0,"y":29,"v":30},{"x":1,"y":29,"v":35},{"x":2,"y":29,"v":25},{"x":3,"y":29,"v":38},{"x":4,"y":29,"v":38},{"x":5,"y":29,"v":21},{"x":6,"y":29,"v":35},{"x":7,"y":29,"v":30},{"x":8,"y":29,"v":16},{"x":9,"y":29,"v":7},{"x":10,"y":29,"v":25},{"x":11,"y":29,"v":21},{"x":12,"y":29,"v":35},{"x":13,"y":29,"v":30},{"x":14,"y":29,"v":38},{"x":15,"y":29,"v":16},{"x":16,"y":29,"v":30},{"x":17,"y":29,"v":25},{"x":18,"y":29,"v":21},{"x":19,"y":29,"v":16},{"x":20,"y":29,"v":35},{"x":21,"y":29,"v":38},{"x":22,"y":29,"v":30},{"x":23,"y":29,"v":25},{"x":24,"y":29,"v":25},{"x":25,"y":29,"v":12},{"x":26,"y":29,"v":30},{"x":27,"y":29,"v":12},{"x":28,"y":29,"v":38},{"x":29,"y":29,"v":56},{"x":30,"y":29,"v":44},{"x":31,"y":29,"v":30},
{"x":0,"y":30,"v":25},{"x":1,"y":30,"v":30},{"x":2,"y":30,"v":21},{"x":3,"y":30,"v":30},{"x":4,"y":30,"v":38},{"x":5,"y":30,"v":30},{"x":6,"y":30,"v":30},{"x":7,"y":30,"v":30},{"x":8,"y":30,"v":30},{"x":9,"y":30,"v":38},{"x":10,"y":30,"v":25},{"x":11,"y":30,"v":21},{"x":12,"y":30,"v":35},{"x":13,"y":30,"v":30},{"x":14,"y":30,"v":25},{"x":15,"y":30,"v":30},{"x":16,"y":30,"v":30},{"x":17,"y":30,"v":30},{"x":18,"y":30,"v":44},{"x":19,"y":30,"v":25},{"x":20,"y":30,"v":38},{"x":21,"y":30,"v":30},{"x":22,"y":30,"v":25},{"x":23,"y":30,"v":30},{"x":24,"y":30,"v":25},{"x":25,"y":30,"v":38},{"x":26,"y":30,"v":35},{"x":27,"y":30,"v":25},{"x":28,"y":30,"v":16},{"x":29,"y":30,"v":25},{"x":30,"y":30,"v":30},{"x":31,"y":30,"v":30},
{"x":0,"y":31,"v":25},{"x":1,"y":31,"v":25},{"x":2,"y":31,"v":25},{"x":3,"y":31,"v":30},{"x":4,"y":31,"v":35},{"x":5,"y":31,"v":44},{"x":6,"y":31,"v":25},{"x":7,"y":31,"v":35},{"x":8,"y":31,"v":12},{"x":9,"y":31,"v":55},{"x":10,"y":31,"v":16},{"x":11,"y":31,"v":30},{"x":12,"y":31,"v":7},{"x":13,"y":31,"v":25},{"x":14,"y":31,"v":21},{"x":15,"y":31,"v":16},{"x":16,"y":31,"v":16},{"x":17,"y":31,"v":38},{"x":18,"y":31,"v":30},{"x":19,"y":31,"v":35},{"x":20,"y":31,"v":35},{"x":21,"y":31,"v":35},{"x":22,"y":31,"v":16},{"x":23,"y":31,"v":35},{"x":24,"y":31,"v":21},{"x":25,"y":31,"v":25},{"x":26,"y":31,"v":30},{"x":27,"y":31,"v":25},{"x":28,"y":31,"v":21},{"x":29,"y":31,"v":30},{"x":30,"y":31,"v":30},{"x":31,"y":31,"v":35}
],"marked":[
{"x":18,"y":0,"v":52},{"x":5,"y":1,"v":58},{"x":30,"y":2,"v":72},{"x":9,"y":7,"v":48},{"x":20,"y":10,"v":58},{"x":27,"y":10,"v":48},{"x":15,"y":14,"v":52},{"x":5,"y":15,"v":72},{"x":12,"y":15,"v":63},{"x":19,"y":17,"v":51},{"x":27,"y":17,"v":53},{"x":2,"y":19,"v":78},{"x":13,"y":22,"v":48},{"x":4,"y":23,"v":49},{"x":19,"y":24,"v":100},{"x":25,"y":26,"v":48},{"x":29,"y":29,"v":56},{"x":9,"y":31,"v":55}
]},
"hconcat":[
{"width":867,"height":870,"data":{"name":"a"},"mark":{"type":"rect","strokeWidth":0.6},
"encoding":{
"x":{"field":"x","type":"ordinal","scale":{"type":"band","paddingInner":0,"paddingOuter":0},"axis":{"title":"(a)","domain":false,"ticks":false,"labels":false,"titleFont":"Liberation Serif","titleFontSize":70,"titleFontWeight":"normal","titleColor":"#000000","titleX":402,"titleY":103,"titleAlign":"center","titleBaseline":"alphabetic"}},
"y":{"field":"y","type":"ordinal","scale":{"type":"band","paddingInner":0,"paddingOuter":0},"axis":null},
"color":{"field":"v","type":"quantitative","scale":{"domain":[0,36.5,74.6,100],"range":["#000000","#ff0000","#ffff00","#ffffff"],"interpolate":"rgb"},"legend":null},
"stroke":{"field":"v","type":"quantitative","scale":{"domain":[0,36.5,74.6,100],"range":["#000000","#ff0000","#ffff00","#ffffff"],"interpolate":"rgb"},"legend":null}
}},
{"width":868,"height":868,
"encoding":{
"x":{"field":"x","type":"ordinal","scale":{"type":"band","paddingInner":0,"paddingOuter":0},"axis":{"title":"(b)","domain":false,"ticks":false,"labels":false,"titleFont":"Liberation Serif","titleFontSize":70,"titleFontWeight":"normal","titleColor":"#000000","titleX":429,"titleY":105,"titleAlign":"center","titleBaseline":"alphabetic"}},
"y":{"field":"y","type":"ordinal","scale":{"type":"band","paddingInner":0,"paddingOuter":0},"axis":null},
"color":{"field":"v","type":"quantitative","scale":{"domain":[0,36.5,74.6,100],"range":["#000000","#ff0000","#ffff00","#ffffff"],"interpolate":"rgb"},"legend":null}
},
"layer":[
{"data":{"name":"b"},"mark":{"type":"rect","strokeWidth":0.6},"encoding":{"stroke":{"field":"v","type":"quantitative","scale":{"domain":[0,36.5,74.6,100],"range":["#000000","#ff0000","#ffff00","#ffffff"],"interpolate":"rgb"},"legend":null}}},
{"data":{"name":"marked"},"mark":{"type":"point","shape":"square","filled":true,"opacity":1,"size":870,"stroke":"#000000","strokeWidth":3.5,"strokeOpacity":1}}
]}
]}
